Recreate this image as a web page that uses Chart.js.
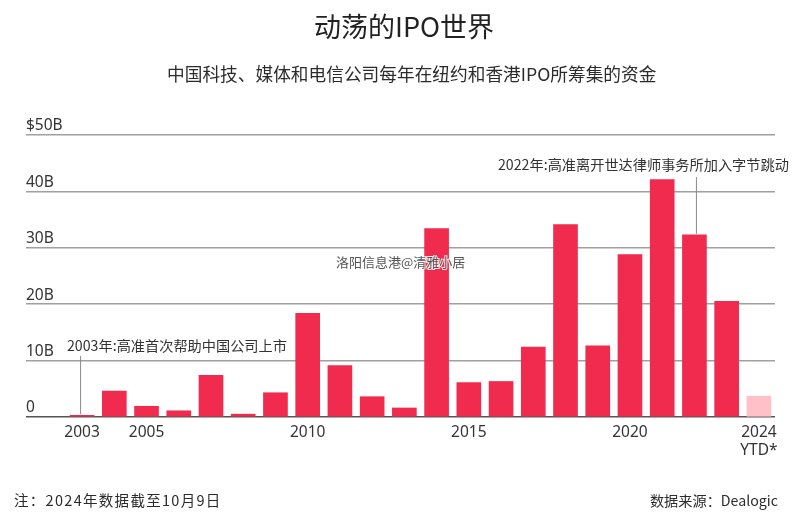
<!DOCTYPE html>
<html>
<head>
<meta charset="utf-8">
<script src="https://cdn.jsdelivr.net/npm/chart.js@4"></script>
<style>
  html, body { margin: 0; padding: 0; background: #fff; }
  body { width: 799px; height: 523px; position: relative; overflow: hidden; font-family: "Noto Sans CJK SC", sans-serif; color: #2b2b2b; }
  canvas { position: absolute; left: 0; top: 0; }
  .txt { position: absolute; white-space: nowrap; }
  #title { left: 314px; top: 8px; font-size: 27px; line-height: 36px; color: #222; }
  #subtitle { left: 167px; top: 60px; font-size: 17.7px; line-height: 26px; }
  #note { left: 14px; top: 489px; font-size: 14.5px; line-height: 22px; letter-spacing: 1.3px; }
  #source { right: 21px; top: 489px; font-size: 14.2px; line-height: 22px; }
</style>
</head>
<body>
<canvas id="ipoChart" width="799" height="523"></canvas>
<div class="txt" id="title">动荡的IPO世界</div>
<div class="txt" id="subtitle">中国科技、媒体和电信公司每年在纽约和香港IPO所筹集的资金</div>
<div class="txt" id="note">注：2024年数据截至10月9日</div>
<div class="txt" id="source">数据来源：Dealogic</div>
<script>
// ---------------- Data ----------------
const years = [2003, 2004, 2005, 2006, 2007, 2008, 2009, 2010, 2011, 2012, 2013,
  2014, 2015, 2016, 2017, 2018, 2019, 2020, 2021, 2022, 2023, 2024];
const raised = [0.3, 4.6, 1.9, 1.1, 7.4, 0.5, 4.3, 18.4, 9.1, 3.6, 1.6,
  33.4, 6.1, 6.3, 12.4, 34.1, 12.6, 28.8, 42.1, 32.3, 20.5, 3.7];
const xTickYears = [2003, 2005, 2010, 2015, 2020, 2024];
const yTickValues = [0, 10, 20, 30, 40, 50];
const yTickLabels = ["0", "10B", "20B", "30B", "40B", "$50B"];
const partialYear = 2024;
const partialYearLabel = "YTD*";
const callouts = [
  { year: 2003, text: "2003年:高准首次帮助中国公司上市" },
  { year: 2022, text: "2022年:高准离开世达律师事务所加入字节跳动" }
];
const watermark = "洛阳信息港@清雅小居";

// ---------------- Helpers ----------------
const FONT = '"Noto Sans CJK SC", sans-serif';
const TICK_FONT = '"Noto Sans", "Noto Sans CJK SC", sans-serif';

const calloutPlugin = {
  id: "callouts",
  afterDatasetsDraw(chart) {
    const { ctx, scales } = chart;
    ctx.save();
    ctx.font = "14.2px " + FONT;
    ctx.textBaseline = "middle";

    // 2003 note
    let x = scales.x.getPixelForValue(callouts[0].year) - 1.5;
    ctx.strokeStyle = "#8a8a8a";
    ctx.lineWidth = 1;
    ctx.beginPath();
    ctx.moveTo(x, 356);
    ctx.lineTo(x, scales.y.getPixelForValue(raised[0]) - 1);
    ctx.stroke();
    ctx.fillStyle = "#333";
    ctx.fillText(callouts[0].text, 67, 346);

    // 2022 note
    x = scales.x.getPixelForValue(callouts[1].year) + 2;
    ctx.beginPath();
    ctx.moveTo(x, 177);
    ctx.lineTo(x, scales.y.getPixelForValue(raised[19]) - 1);
    ctx.stroke();
    ctx.fillText(callouts[1].text, 498, 165);

    // image watermark over the chart
    ctx.font = "13px " + FONT;
    ctx.lineWidth = 2;
    ctx.strokeStyle = "rgba(255,255,255,0.85)";
    ctx.strokeText(watermark, 336, 262);
    ctx.fillStyle = "#555";
    ctx.fillText(watermark, 336, 262);
    ctx.restore();
  }
};

// ---------------- Chart ----------------
new Chart(document.getElementById("ipoChart"), {
  type: "bar",
  data: {
    datasets: [{
      data: years.map((y, i) => ({ x: y, y: raised[i] })),
      backgroundColor: years.map(y => y === partialYear ? "#ffc0c8" : "#f02b4e"),
      barThickness: 24
    }]
  },
  options: {
    responsive: false,
    animation: false,
    devicePixelRatio: 1,
    layout: { padding: { left: 26, right: 24, top: 135, bottom: 0 } },
    plugins: { legend: { display: false }, tooltip: { enabled: false } },
    scales: {
      x: {
        type: "linear",
        offset: false,
        min: 2001.26,
        max: 2024.5,
        grid: { display: false },
        border: { display: false },
        afterBuildTicks: s => { s.ticks = xTickYears.map(v => ({ value: v })); },
        afterFit: s => { s.height = 106; },
        ticks: {
          autoSkip: false,
          maxRotation: 0,
          padding: -2,
          color: "#333",
          font: { family: TICK_FONT, size: 15.5 },
          callback: v => v === partialYear ? [String(v), partialYearLabel] : String(v)
        }
      },
      y: {
        min: 0,
        max: 50,
        grid: {
          drawTicks: false,
          lineWidth: 1.5,
          color: c => c.tick.value === 0 ? "#555" : "#a0a0a0"
        },
        border: { display: false },
        afterBuildTicks: s => { s.ticks = yTickValues.map(v => ({ value: v })); },
        ticks: {
          mirror: true,
          padding: 0,
          labelOffset: -9,
          color: "#333",
          font: { family: TICK_FONT, size: 15.5 },
          callback: v => yTickLabels[yTickValues.indexOf(v)]
        }
      }
    }
  },
  plugins: [calloutPlugin]
});
</script>
</body>
</html>
